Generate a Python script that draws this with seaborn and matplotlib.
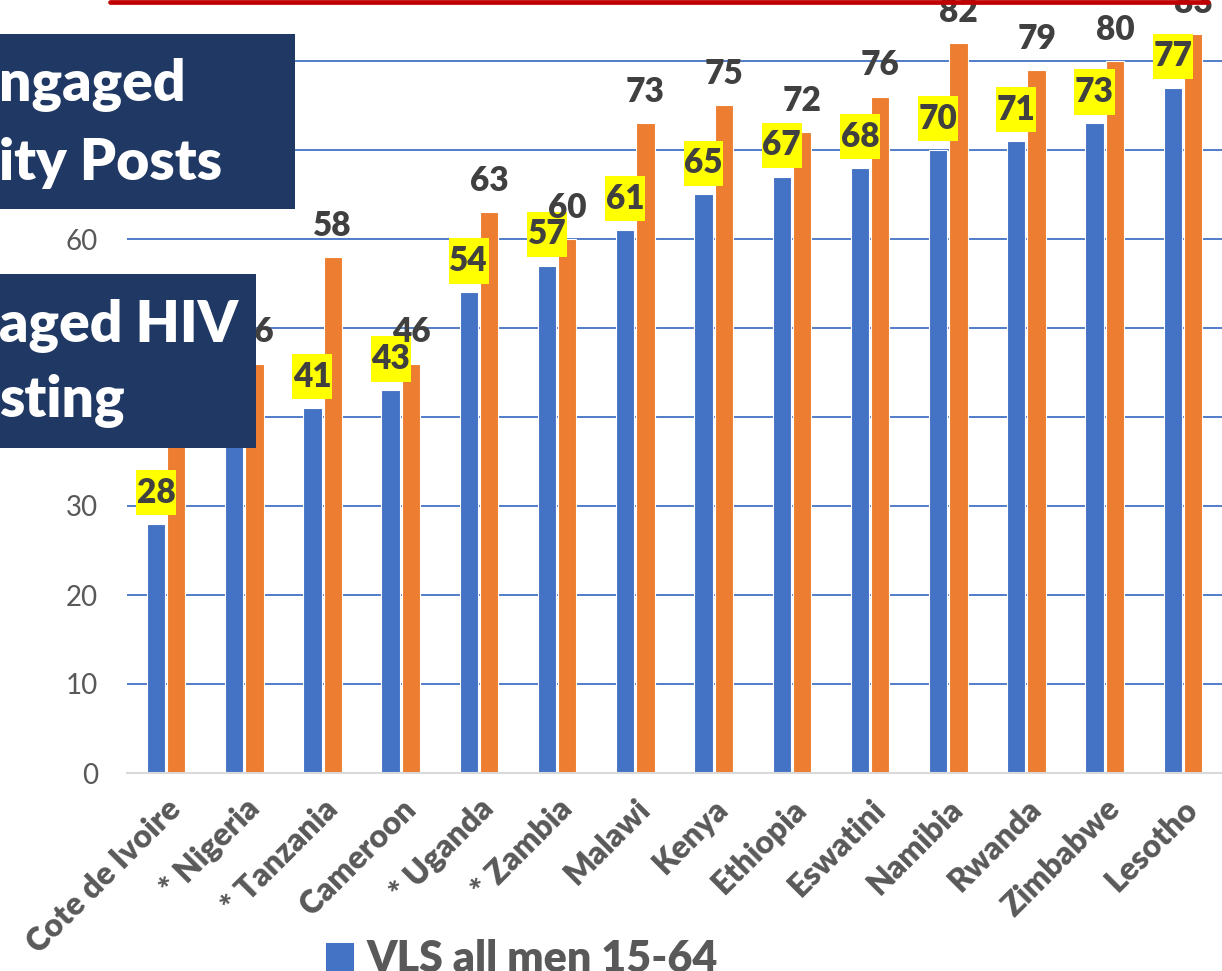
import matplotlib
matplotlib.use("Agg")
import matplotlib.pyplot as plt
import seaborn as sns
import pandas as pd
from matplotlib.patches import Rectangle, Patch
from matplotlib.path import Path
from matplotlib.lines import Line2D
from matplotlib.font_manager import FontProperties

# ---------------- data ----------------
countries = ["Cote de Ivoire", "* Nigeria", "* Tanzania", "Cameroon", "* Uganda",
             "* Zambia", "Malawi", "Kenya", "Ethiopia", "Eswatini", "Namibia",
             "Rwanda", "Zimbabwe", "Lesotho"]
vls_all_men = [28, 39, 41, 43, 54, 57, 61, 65, 67, 68, 70, 71, 73, 77]
vls_second = [40, 46, 58, 46, 63, 60, 73, 75, 72, 76, 82, 79, 80, 83]
series_names = ["VLS all men 15-64", "VLS men (second series)"]
y_ticks = [0, 10, 20, 30, 40, 50, 60, 70, 80]
box1_lines = ["ngaged", "ity Posts"]
box2_lines = ["aged HIV", "sting"]

BLUE = "#4472C4"
ORANGE = "#ED7D31"
NAVY = "#203864"
RED = "#C00000"
GRAY = "#595959"
DARK = "#404040"
HEAVY = 800

sns.set_style("white")
plt.rcParams["font.family"] = ["Lato", "DejaVu Sans"]

df = pd.DataFrame({
    "country": countries * 2,
    "series": [series_names[0]] * len(countries) + [series_names[1]] * len(countries),
    "value": vls_all_men + vls_second,
})

W, H = 1222, 971
fig = plt.figure(figsize=(W / 100, H / 100), dpi=100)
ax = fig.add_axes([127 / W, 198 / H, 1 - 127 / W, 773 / H])

sns.barplot(data=df, x="country", y="value", hue="series",
            palette=[BLUE, ORANGE], saturation=1, width=0.52, gap=0.1,
            errorbar=None, edgecolor="white", linewidth=0.8,
            legend=False, ax=ax)

ax.set_xlim(-0.5, len(countries) - 0.5)
ax.set_ylim(0, 773 / 8.9)
ax.set_yticks(y_ticks)
ax.set_xlabel("")
ax.set_ylabel("")
ax.yaxis.grid(True, color=BLUE, linewidth=1.3)
ax.xaxis.grid(False)
ax.set_axisbelow(True)
for s in ["top", "right", "left"]:
    ax.spines[s].set_visible(False)
ax.spines["bottom"].set_color("#D9D9D9")
ax.spines["bottom"].set_linewidth(1.5)

ax.tick_params(axis="y", length=0, pad=21, labelsize=20, labelcolor=GRAY)
ax.set_xticks(range(len(countries)))
ax.set_xticklabels(countries, rotation=45, ha="right", rotation_mode="anchor",
                   fontsize=23, fontweight=HEAVY, color=GRAY)
ax.tick_params(axis="x", length=0, pad=15)


def yellow_box(x0, y0, width, height, mutation_size):
    px = 0.02 * mutation_size
    py = 0.2 * mutation_size
    xa, xb = x0 - px, x0 + width + px
    ya, yb = y0 - py, y0 + height + py
    return Path([(xa, ya), (xb, ya), (xb, yb), (xa, yb), (xa, ya)], closed=True)


ax.bar_label(ax.containers[0], labels=[str(v) for v in vls_all_men], padding=11,
             fontsize=24, fontweight=HEAVY, color=DARK, clip_on=False,
             bbox=dict(boxstyle=yellow_box, fc="#FFFF00", ec="none"))
ax.bar_label(ax.containers[1], labels=[str(v) for v in vls_second], padding=11,
             fontsize=24, fontweight=HEAVY, color=DARK, clip_on=False)

# legend
fig.legend(handles=[Patch(facecolor=BLUE, edgecolor="none")], labels=[series_names[0]],
           loc="center left", bbox_to_anchor=(326 / W, (H - 959) / H),
           frameon=False, prop=FontProperties(family="Lato", weight=HEAVY, size=31),
           labelcolor=GRAY, handlelength=0.64, handleheight=0.64,
           handletextpad=0.3, borderpad=0, borderaxespad=0)

# red line at top
fig.add_artist(Line2D([110 / W, 1208 / W], [1 - 2 / H, 1 - 2 / H],
                      transform=fig.transFigure, color=RED, linewidth=3.4, zorder=12))

# navy overlay boxes
def navy_box(x0, x1, ytop, ybot, lines, baselines):
    fig.add_artist(Rectangle((x0 / W, 1 - ybot / H), (x1 - x0) / W, (ybot - ytop) / H,
                             transform=fig.transFigure, facecolor=NAVY,
                             edgecolor="none", zorder=10))
    for txt, b in zip(lines, baselines):
        fig.text(-1 / W, 1 - b / H, txt, color="white", fontsize=41,
                 fontweight=HEAVY, va="baseline", ha="left", zorder=11)


navy_box(0, 295, 34, 209, box1_lines, [101, 180])
navy_box(0, 256, 274, 448, box2_lines, [342, 417])

fig.savefig("out.png", dpi=100)
